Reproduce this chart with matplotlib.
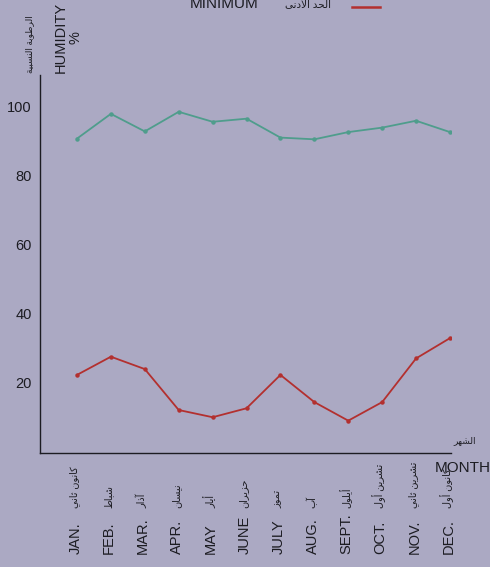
from matplotlib import pyplot as plt

plt.rcParams['font.family'] = ['Liberation Sans', 'DejaVu Sans']

months_en = ['JAN.', 'FEB.', 'MAR.', 'APR.', 'MAY', 'JUNE', 'JULY', 'AUG.',
             'SEPT.', 'OCT.', 'NOV.', 'DEC.']
months_ar = ['كانون ثاني', 'شباط', 'آذار', 'نيسان', 'أيار', 'حزيران', 'تموز',
             'آب', 'أيلول', 'تشرين أول', 'تشرين ثاني', 'كانون أول']
humidity_max = [90.8, 98.0, 92.9, 98.6, 95.7, 96.6, 91.1, 90.6, 92.7, 94.0, 96.0, 92.7]
humidity_min = [22.1, 27.4, 23.8, 11.9, 9.8, 12.4, 22.1, 14.2, 8.8, 14.2, 26.9, 32.8]
yticks = [20, 40, 60, 80, 100]

# arabic presentation forms: base codepoint, 4 = joins both sides, 2 = right only
FORMS = {
    'ا': (0xFE8D, 2), 'أ': (0xFE83, 2), 'آ': (0xFE81, 2), 'ب': (0xFE8F, 4),
    'ة': (0xFE93, 2), 'ت': (0xFE95, 4), 'ث': (0xFE99, 4), 'ح': (0xFEA1, 4),
    'د': (0xFEA9, 2), 'ذ': (0xFEAB, 2), 'ر': (0xFEAD, 2), 'ز': (0xFEAF, 2),
    'س': (0xFEB1, 4), 'ش': (0xFEB5, 4), 'ط': (0xFEC1, 4), 'ك': (0xFED9, 4),
    'ل': (0xFEDD, 4), 'م': (0xFEE1, 4), 'ن': (0xFEE5, 4), 'ه': (0xFEE9, 4),
    'و': (0xFEED, 2), 'ى': (0xFEEF, 2), 'ي': (0xFEF1, 4),
}
LAM_ALEF = {'ا': 0xFEFB, 'أ': 0xFEF7, 'آ': 0xFEF5}


def shape(text):
    out = []
    i = 0
    prev = False
    while i < len(text):
        c = text[i]
        if c not in FORMS:
            out.append(c)
            prev = False
            i += 1
            continue
        if c == 'ل' and i + 1 < len(text) and text[i + 1] in LAM_ALEF:
            out.append(chr(LAM_ALEF[text[i + 1]] + (1 if prev else 0)))
            prev = False
            i += 2
            continue
        base, n = FORMS[c]
        nxt = text[i + 1] if i + 1 < len(text) else ''
        joins = n == 4 and nxt in FORMS
        if prev and joins:
            off = 3
        elif prev:
            off = 1
        elif joins:
            off = 2
        else:
            off = 0
        out.append(chr(base + off))
        prev = joins
        i += 1
    return ''.join(reversed(out))


W, H = 490, 567
bg = '#aba9c3'
ink = '#1c1c22'

fig = plt.figure(figsize=(W / 100, H / 100), dpi=100, facecolor=bg)
ax = fig.add_axes([40 / W, 1 - 453 / H, 411 / W, 378 / H])
ax.set_facecolor(bg)

x = list(range(len(months_en)))
ax.plot(x, humidity_max, color='#4f9d8c', lw=1.3, marker='o', ms=2.2)
ax.plot(x, humidity_min, color='#b3302f', lw=1.3, marker='o', ms=2.2)

ax.set_xlim(-1.09, 11.03)
ax.set_ylim(-0.6, 109.3)
ax.set_yticks(yticks)
ax.tick_params(axis='y', length=0, pad=6, labelsize=10.5, labelcolor=ink)
ax.set_xticks([])
for s in ['top', 'right']:
    ax.spines[s].set_visible(False)
for s in ['left', 'bottom']:
    ax.spines[s].set_color(ink)
    ax.spines[s].set_linewidth(1.0)

tr = ax.get_xaxis_transform()
for i in x:
    ax.text(i - 0.05, -0.267, months_en[i], transform=tr, rotation=90,
            ha='center', va='bottom', fontsize=10.5, color=ink)
    ax.text(i - 0.08, -0.145, shape(months_ar[i]), transform=tr, rotation=90,
            ha='center', va='bottom', fontsize=7, color=ink)

# axis titles
fig.text(30 / W, 1 - 73 / H, shape('الرطوبة النسبية'), rotation=90,
         ha='center', va='bottom', fontsize=6.5, color=ink)
fig.text(68 / W, 1 - 73 / H, 'HUMIDITY\n%', rotation=90, ha='center',
         va='bottom', fontsize=10.5, color=ink, multialignment='center',
         linespacing=1.0)
fig.text(463 / W, 1 - 468 / H, 'MONTH', ha='center', va='center',
         fontsize=11, color=ink)
fig.text(465 / W, 1 - 441 / H, shape('الشهر'), ha='center', va='center',
         fontsize=6.5, color=ink)

# legend strip at top
fig.text(224 / W, 1 - 8 / H, 'MINIMUM', ha='center', va='baseline',
         fontsize=11, color=ink)
fig.text(308 / W, 1 - 8 / H, shape('الحد الأدنى'), ha='center', va='baseline',
         fontsize=7.5, color=ink)
fig.add_artist(plt.Line2D([352 / W, 380 / W], [1 - 6.5 / H, 1 - 6.5 / H],
                          color='#b3302f', lw=1.8))

fig.savefig('out.png', dpi=100, facecolor=bg)
